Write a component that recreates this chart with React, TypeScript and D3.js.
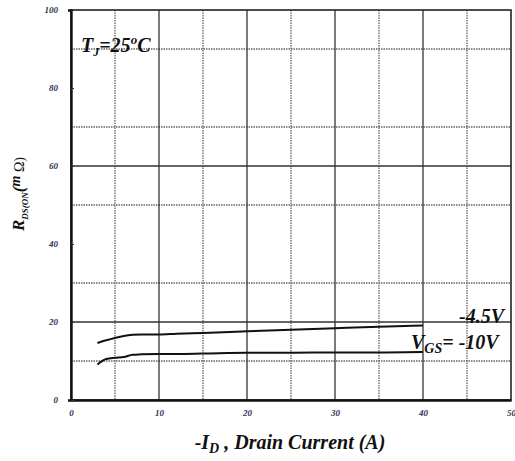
import * as d3 from "d3";
import { useEffect, useRef } from "react";

// Data
const current = [3, 4, 5, 6, 7, 8, 10, 12, 15, 20, 25, 30, 35, 40];
const rds45 = [14.6, 15.3, 15.9, 16.4, 16.7, 16.8, 16.8, 17.0, 17.2, 17.6, 18.0, 18.4, 18.8, 19.1];
const rds10 = [9.1, 10.5, 10.8, 11.0, 11.6, 11.7, 11.8, 11.8, 11.9, 12.1, 12.1, 12.2, 12.2, 12.3];
const xTicks = [0, 10, 20, 30, 40, 50];
const yTicks = [0, 20, 40, 60, 80, 100];
const xSolid = [10, 20, 30, 40];
const xDotted = [5, 15, 25, 35, 45];
const ySolid = [20, 60];
const yDotted = [10, 30, 50, 70, 90];

const W = 515;
const H = 461;
const margin = { top: 10, right: 4, bottom: 61, left: 71 };
const font = "Liberation Serif";

const drawChart = (el: SVGSVGElement) => {
  const svg = d3.select(el);
  svg.selectAll("*").remove();

  const x = d3.scaleLinear().domain([0, 50]).range([margin.left, W - margin.right]);
  const y = d3.scaleLinear().domain([0, 100]).range([H - margin.bottom, margin.top]);

  const g = svg.append("g");

  // grid
  g.selectAll(".vd").data(xDotted).join("line")
    .attr("x1", d => x(d)).attr("x2", d => x(d))
    .attr("y1", y(100)).attr("y2", y(0))
    .attr("stroke", "#666").attr("stroke-width", 1.3).attr("stroke-dasharray", "1.5,1");
  g.selectAll(".hd").data(yDotted).join("line")
    .attr("y1", d => y(d)).attr("y2", d => y(d))
    .attr("x1", x(0)).attr("x2", x(50))
    .attr("stroke", "#666").attr("stroke-width", 1.3).attr("stroke-dasharray", "1.5,1");
  g.selectAll(".vs").data(xSolid).join("line")
    .attr("x1", d => x(d)).attr("x2", d => x(d))
    .attr("y1", y(100)).attr("y2", y(0))
    .attr("stroke", "#333").attr("stroke-width", 1.3);
  g.selectAll(".hs").data(ySolid).join("line")
    .attr("y1", d => y(d)).attr("y2", d => y(d))
    .attr("x1", x(0)).attr("x2", x(50))
    .attr("stroke", "#333").attr("stroke-width", 1.3);

  // frame
  g.append("rect")
    .attr("x", x(0)).attr("y", y(100))
    .attr("width", x(50) - x(0)).attr("height", y(0) - y(100))
    .attr("fill", "none").attr("stroke", "#222").attr("stroke-width", 1.6);

  // axes
  const xAxis = d3.axisBottom(x).tickValues(xTicks).tickSize(0).tickPadding(10);
  const yAxis = d3.axisLeft(y).tickValues(yTicks).tickSize(3).tickPadding(10);

  const xg = g.append("g").attr("transform", `translate(0,${y(0)})`).call(xAxis);
  const yg = g.append("g").attr("transform", `translate(${x(0)},0)`).call(yAxis);
  [xg, yg].forEach(a => {
    a.attr("font-family", font).attr("font-size", 9);
    a.select(".domain").attr("stroke", "#111").attr("stroke-width", 2.4);
    a.selectAll(".tick line").attr("stroke", "#333");
    a.selectAll(".tick text")
      .attr("fill", "#2b3552")
      .attr("font-weight", "bold")
      .attr("font-style", "italic");
  });
  yg.selectAll(".tick line").attr("x2", 3);

  // curves
  const line = d3.line<number>()
    .x((_, i) => x(current[i]))
    .y(d => y(d))
    .curve(d3.curveMonotoneX);

  [rds45, rds10].forEach(s => {
    g.append("path")
      .datum(s)
      .attr("fill", "none")
      .attr("stroke", "#111")
      .attr("stroke-width", 2)
      .attr("d", line);
  });

  const label = (tx: number, ty: number, anchor = "start", size = 20) =>
    g.append("text")
      .attr("x", tx).attr("y", ty)
      .attr("text-anchor", anchor)
      .style("font-family", font)
      .attr("font-weight", "bold")
      .attr("font-style", "italic")
      .attr("font-size", size)
      .attr("fill", "#111");

  // annotations
  label(504, 323, "end").text("-4.5V");
  const vgs = label(411, 349);
  vgs.append("tspan").text("V");
  vgs.append("tspan").attr("dy", 4).attr("font-size", 14).text("GS");
  vgs.append("tspan").attr("dy", -4).text("= -10V");

  const tj = label(81, 52);
  tj.append("tspan").text("T");
  tj.append("tspan").attr("dy", 4).attr("font-size", 12).text("J");
  tj.append("tspan").attr("dy", -4).text("=25");
  tj.append("tspan").attr("dy", -8).attr("font-size", 13).text("o");
  tj.append("tspan").attr("dy", 8).text("C");

  // x title
  const xt = label(290, 449, "middle", 20);
  xt.append("tspan").text("-I");
  xt.append("tspan").attr("dy", 4).attr("font-size", 14).text("D");
  xt.append("tspan").attr("dy", -4).text(" , Drain Current (A)");

  // y title
  const yt = g.append("text")
    .attr("transform", `translate(24,194) rotate(-90)`)
    .attr("text-anchor", "middle")
    .style("font-family", font)
    .attr("font-weight", "bold")
    .attr("font-style", "italic")
    .attr("font-size", 17)
    .attr("fill", "#111");
  yt.append("tspan").text("R");
  yt.append("tspan").attr("dy", 4).attr("font-size", 9).text("DS(ON");
  yt.append("tspan").attr("dy", -4).text("(");
  yt.append("tspan").attr("dy", -4).attr("font-size", 14).text("m");
  yt.append("tspan").attr("dy", 4).attr("font-weight", "normal").attr("font-style", "normal").attr("font-size", 14).text(" Ω)");
};

export default function App() {
  const ref = useRef<SVGSVGElement>(null);
  useEffect(() => {
    if (ref.current) drawChart(ref.current);
  }, []);
  return (
    <svg
      ref={ref}
      width={W}
      height={H}
      style={{ position: "absolute", left: 0, top: 0, background: "#fff" }}
    />
  );
}
